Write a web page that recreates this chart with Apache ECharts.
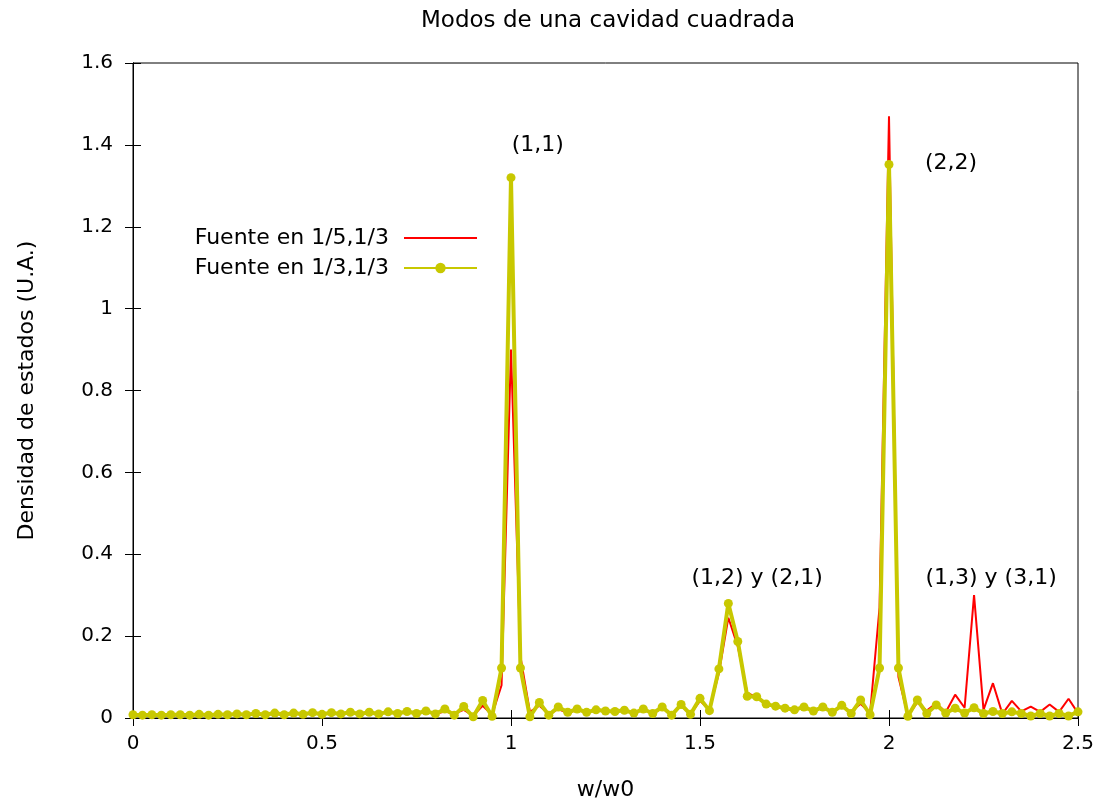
<!DOCTYPE html>
<html>
<head>
<meta charset="utf-8">
<title>Modos de una cavidad cuadrada</title>
<script src="https://cdn.jsdelivr.net/npm/echarts@6/dist/echarts.min.js"></script>
<style>
  html, body { margin: 0; padding: 0; background: #fff; }
  #chart { width: 1109px; height: 808px; }
</style>
</head>
<body>
<div id="chart"></div>
<script>
// frecuencias normalizadas w/w0
var wValues = [
  0.000, 0.025, 0.050, 0.075, 0.100, 0.125, 0.150, 0.175, 0.200, 0.225,
  0.250, 0.275, 0.300, 0.325, 0.350, 0.375, 0.400, 0.425, 0.450, 0.475,
  0.500, 0.525, 0.550, 0.575, 0.600, 0.625, 0.650, 0.675, 0.700, 0.725,
  0.750, 0.775, 0.800, 0.825, 0.850, 0.875, 0.900, 0.925, 0.950, 0.975,
  1.000, 1.025, 1.050, 1.075, 1.100, 1.125, 1.150, 1.175, 1.200, 1.225,
  1.250, 1.275, 1.300, 1.325, 1.350, 1.375, 1.400, 1.425, 1.450, 1.475,
  1.500, 1.525, 1.550, 1.575, 1.600, 1.625, 1.650, 1.675, 1.700, 1.725,
  1.750, 1.775, 1.800, 1.825, 1.850, 1.875, 1.900, 1.925, 1.950, 1.975,
  2.000, 2.025, 2.050, 2.075, 2.100, 2.125, 2.150, 2.175, 2.200, 2.225,
  2.250, 2.275, 2.300, 2.325, 2.350, 2.375, 2.400, 2.425, 2.450, 2.475,
  2.500
];

// Fuente en 1/5,1/3
var fuente15 = [
  0.007, 0.006, 0.007, 0.006, 0.007, 0.007, 0.006, 0.008, 0.006, 0.008,
  0.007, 0.009, 0.007, 0.010, 0.007, 0.011, 0.007, 0.011, 0.008, 0.012,
  0.008, 0.012, 0.009, 0.013, 0.009, 0.013, 0.009, 0.014, 0.010, 0.015,
  0.010, 0.015, 0.010, 0.016, 0.011, 0.020, 0.006, 0.030, 0.008, 0.080,
  0.900, 0.150, 0.015, 0.030, 0.010, 0.022, 0.012, 0.020, 0.013, 0.019,
  0.015, 0.015, 0.018, 0.012, 0.020, 0.011, 0.024, 0.008, 0.030, 0.010,
  0.042, 0.020, 0.110, 0.245, 0.175, 0.062, 0.050, 0.034, 0.028, 0.024,
  0.021, 0.026, 0.018, 0.025, 0.016, 0.028, 0.015, 0.035, 0.012, 0.270,
  1.470, 0.100, 0.005, 0.038, 0.018, 0.036, 0.014, 0.057, 0.025, 0.300,
  0.020, 0.085, 0.010, 0.042, 0.016, 0.028, 0.015, 0.033, 0.015, 0.047,
  0.012
];

// Fuente en 1/3,1/3
var fuente13 = [
  0.008, 0.007, 0.008, 0.007, 0.008, 0.008, 0.007, 0.009, 0.007, 0.009,
  0.008, 0.010, 0.008, 0.011, 0.008, 0.012, 0.008, 0.012, 0.009, 0.013,
  0.009, 0.013, 0.010, 0.014, 0.010, 0.014, 0.010, 0.015, 0.011, 0.016,
  0.011, 0.017, 0.010, 0.022, 0.007, 0.028, 0.003, 0.043, 0.004, 0.122,
  1.320, 0.122, 0.003, 0.038, 0.007, 0.027, 0.014, 0.022, 0.014, 0.020,
  0.017, 0.016, 0.019, 0.012, 0.022, 0.011, 0.027, 0.007, 0.033, 0.009,
  0.048, 0.018, 0.120, 0.280, 0.187, 0.053, 0.052, 0.034, 0.029, 0.024,
  0.020, 0.027, 0.017, 0.027, 0.014, 0.031, 0.011, 0.044, 0.008, 0.122,
  1.352, 0.122, 0.004, 0.044, 0.011, 0.032, 0.012, 0.024, 0.012, 0.025,
  0.011, 0.016, 0.011, 0.015, 0.011, 0.005, 0.011, 0.005, 0.011, 0.005,
  0.015
];

// etiquetas de los modos [w/w0, densidad, texto]
var etiquetasModos = [
  [1.071, 1.400, '(1,1)'],
  [2.164, 1.356, '(2,2)'],
  [1.651, 0.342, '(1,2) y (2,1)'],
  [2.270, 0.342, '(1,3) y (3,1)']
];

var seriesNames = ['Fuente en 1/5,1/3', 'Fuente en 1/3,1/3'];

function pares(xs, ys) {
  var out = [];
  for (var i = 0; i < xs.length; i++) {
    out.push([xs[i], ys[i]]);
  }
  return out;
}

var myChart = echarts.init(document.getElementById('chart'));
var fuente = 'DejaVu Sans, Liberation Sans, sans-serif';

var option = {
  backgroundColor: '#ffffff',
  animation: false,
  title: {
    text: 'Modos de una cavidad cuadrada',
    left: 603,
    textAlign: 'center',
    top: 5,
    textStyle: { fontFamily: fuente, fontSize: 23, fontWeight: 'normal', color: '#000' }
  },
  legend: {
    orient: 'vertical',
    align: 'right',
    right: 631,
    top: 227,
    padding: 0,
    itemGap: 8,
    itemWidth: 73,
    itemHeight: 13,
    data: [
      { name: seriesNames[0], itemStyle: { opacity: 0 } },
      { name: seriesNames[1] }
    ],
    textStyle: { fontFamily: fuente, fontSize: 22, color: '#000', padding: [0, 10, 0, 0] }
  },
  grid: {
    left: 133,
    right: 31,
    top: 63,
    bottom: 90,
    show: true,
    borderColor: '#000',
    borderWidth: 1,
    containLabel: false
  },
  xAxis: [
    {
      type: 'value',
      min: 0,
      max: 2.5,
      interval: 0.5,
      name: 'w/w0',
      nameLocation: 'middle',
      nameGap: 61,
      nameTextStyle: { fontFamily: fuente, fontSize: 22, color: '#000' },
      axisLine: { show: true, lineStyle: { color: '#000', width: 1 } },
      axisTick: { show: true, inside: true, length: 8, lineStyle: { color: '#000' } },
      axisLabel: { fontFamily: fuente, fontSize: 20, color: '#000', margin: 16 },
      splitLine: { show: false }
    },
    {
      type: 'value',
      position: 'top',
      min: 0,
      max: 2.5,
      interval: 0.5,
      axisLine: { show: true, lineStyle: { color: '#000', width: 1 } },
      axisTick: { show: true, inside: true, length: 8, lineStyle: { color: '#000' } },
      axisLabel: { show: false },
      splitLine: { show: false }
    }
  ],
  yAxis: [
    {
      type: 'value',
      min: 0,
      max: 1.6,
      interval: 0.2,
      name: 'Densidad de estados (U.A.)',
      nameLocation: 'middle',
      nameGap: 95,
      nameTextStyle: { fontFamily: fuente, fontSize: 22, color: '#000' },
      axisLine: { show: true, lineStyle: { color: '#000', width: 1 } },
      axisTick: { show: true, inside: true, length: 8, lineStyle: { color: '#000' } },
      axisLabel: { fontFamily: fuente, fontSize: 20, color: '#000', margin: 20 },
      splitLine: { show: false }
    },
    {
      type: 'value',
      position: 'right',
      min: 0,
      max: 1.6,
      interval: 0.2,
      axisLine: { show: true, lineStyle: { color: '#000', width: 1 } },
      axisTick: { show: true, inside: true, length: 8, lineStyle: { color: '#000' } },
      axisLabel: { show: false },
      splitLine: { show: false }
    }
  ],
  series: [
    {
      name: seriesNames[0],
      type: 'line',
      xAxisIndex: 0,
      yAxisIndex: 0,
      symbol: 'none',
      color: '#ff0000',
      lineStyle: { color: '#ff0000', width: 2 },
      data: pares(wValues, fuente15),
      z: 2
    },
    {
      name: seriesNames[1],
      type: 'line',
      xAxisIndex: 0,
      yAxisIndex: 0,
      symbol: 'circle',
      symbolSize: 9,
      showAllSymbol: true,
      color: '#c8c800',
      itemStyle: { color: '#c8c800' },
      lineStyle: { color: '#c8c800', width: 4 },
      data: pares(wValues, fuente13),
      z: 3
    },
    {
      name: 'etiquetas',
      type: 'scatter',
      xAxisIndex: 0,
      yAxisIndex: 0,
      symbolSize: 0,
      silent: true,
      itemStyle: { opacity: 1, color: '#000' },
      label: {
        show: true,
        position: 'inside',
        formatter: function (p) { return p.data[2]; },
        fontFamily: fuente,
        fontSize: 22,
        color: '#000',
        opacity: 1
      },
      data: etiquetasModos,
      z: 4
    }
  ]
};

myChart.setOption(option);
</script>
</body>
</html>
